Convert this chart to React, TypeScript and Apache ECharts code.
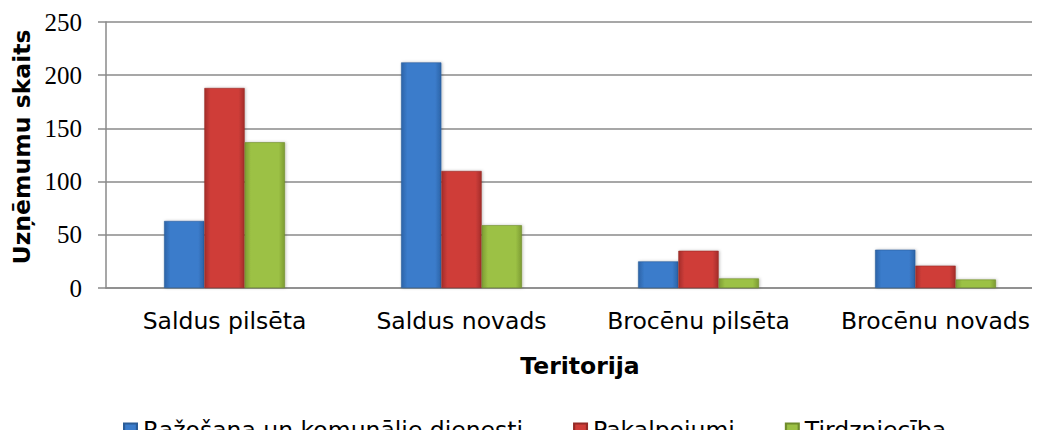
import React, { useEffect, useRef } from "react";
import * as echarts from "echarts";

const categories = ["Saldus pilsēta", "Saldus novads", "Brocēnu pilsēta", "Brocēnu novads"];
const seriesNames = ["Ražošana un komunālie dienesti", "Pakalpojumi", "Tirdzniecība"];
const razosana = [63, 212, 25, 36];
const pakalpojumi = [188, 110, 35, 21];
const tirdznieciba = [137, 59, 9, 8];
const yTicks = { min: 0, max: 250, step: 50 };

const grad = (edge: string, mid: string) =>
  new echarts.graphic.LinearGradient(0, 0, 1, 0, [
    { offset: 0, color: edge },
    { offset: 0.15, color: mid },
    { offset: 0.85, color: mid },
    { offset: 1, color: edge },
  ]);

export default function App() {
  const ref = useRef<HTMLDivElement>(null);
  useEffect(() => {
    if (!ref.current) return;
    const chart = echarts.init(ref.current, undefined, { renderer: "svg" });
    const colors = [
      grad("#2c64a8", "#3b7ccb"),
      grad("#a52e2b", "#cf3d39"),
      grad("#7d9c33", "#9cc145"),
    ];
    const borders = ["#2a5c98", "#952a27", "#6f8c2c"];
    const data = [razosana, pakalpojumi, tirdznieciba];
    const font = "DejaVu Sans";
    chart.setOption({
      animation: false,
      grid: { left: 106, top: 22, height: 266, width: 948, containLabel: false, outerBoundsMode: "none" },
      legend: {
        left: 118,
        top: 413,
        itemWidth: 13,
        itemHeight: 13,
        itemGap: 50,
        icon: "rect",
        textStyle: { fontFamily: font, fontSize: 23.5, color: "#000", padding: [0, 0, 0, 1] },
        data: seriesNames,
      },
      xAxis: {
        type: "category",
        data: categories,
        axisLine: { lineStyle: { color: "#8a8a8a", width: 1.5 } },
        axisTick: { show: false },
        axisLabel: { fontFamily: font, fontSize: 23.5, color: "#000", margin: 21, interval: 0 },
        name: "Teritorija",
        nameLocation: "middle",
        nameGap: 66,
        nameTextStyle: { fontFamily: font, fontWeight: "bold", fontSize: 23.5, color: "#000" },
      },
      yAxis: {
        type: "value",
        min: yTicks.min,
        max: yTicks.max,
        interval: yTicks.step,
        axisLine: { show: true, lineStyle: { color: "#8a8a8a", width: 1.5 } },
        axisTick: { show: true, length: 8, lineStyle: { color: "#8a8a8a", width: 1.5 } },
        splitLine: { lineStyle: { color: "#8a8a8a", width: 1.5 } },
        axisLabel: { fontFamily: "Liberation Serif", fontSize: 25, color: "#000", margin: 24 },
        name: "Uzņēmumu skaits",
        nameLocation: "middle",
        nameGap: 71,
        nameTextStyle: { fontFamily: font, fontWeight: "bold", fontSize: 23.5, color: "#000", padding: [0, 0, 0, 16] },
      },
      series: seriesNames.map((n, i) => ({
        name: n,
        type: "bar",
        data: data[i],
        barGap: "0%",
        barCategoryGap: "49%",
        itemStyle: {
          color: colors[i],
          borderColor: borders[i],
          borderWidth: 0.6,
          shadowColor: "rgba(0,0,0,0.25)",
          shadowBlur: 3,
          shadowOffsetX: 1,
        },
      })),
    });
    return () => chart.dispose();
  }, []);
  return <div ref={ref} style={{ width: 1040, height: 438, margin: -8 }} />;
}
